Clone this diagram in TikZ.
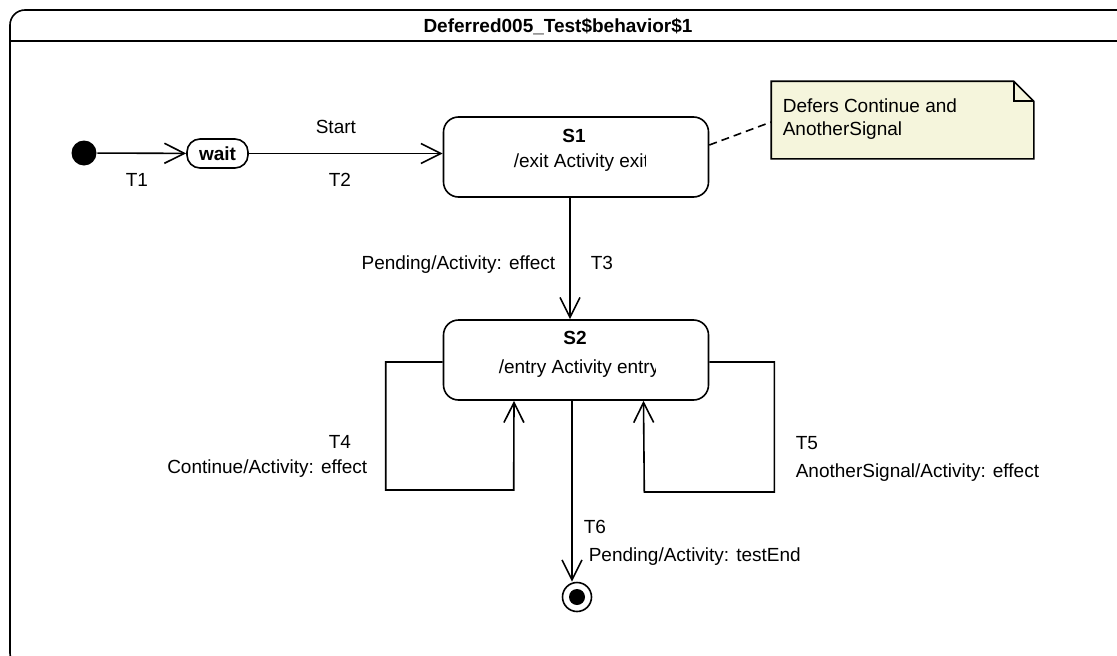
\documentclass[tikz,border=0pt]{standalone}
\usepackage{fontspec}
\setmainfont{Liberation Sans}
\usepackage{xcolor}
\usetikzlibrary{arrows.meta,positioning}
\definecolor{notefill}{RGB}{245,245,220}

\begin{document}
\begin{tikzpicture}[
    x=1pt, y=-1pt,
    font=\fontsize{19}{23}\selectfont,
    line width=1.6pt,
    state/.style={rectangle, draw, rounded corners=15pt, minimum width=265pt, minimum height=80pt, inner sep=0pt},
    smallstate/.style={rectangle, draw, rounded corners=13pt, minimum width=61pt, minimum height=29pt, inner sep=0pt, font=\fontsize{19}{23}\selectfont\bfseries},
    notebox/.style={rectangle, minimum width=261pt, minimum height=76pt, inner sep=0pt},
    trans/.style={-{Straight Barb[length=20pt,width=20pt]}},
    lbl/.style={inner sep=0pt, anchor=base west},
    rlbl/.style={inner sep=0pt, anchor=base east},
    clbl/.style={inner sep=0pt, anchor=base}
]
    \useasboundingbox (0,0) rectangle (1117,656);
    \clip (0,0) rectangle (1117,656);

    % Frame
    \draw[rounded corners=15pt] (10,10) rectangle (1140,668);
    \draw (10,41) -- (1117,41);
    \node[clbl, font=\fontsize{19}{23}\selectfont\bfseries] (title) at (558,32) {Deferred005\_Test\$behavior\$1};

    % States
    \node[circle, fill, minimum size=25pt, inner sep=0pt] (init) at (84,153) {};
    \node[smallstate] (wait) at (217.5,153.5) {wait};
    \node[state] (S1) at (576,157) {};
    \node[clbl, font=\fontsize{19}{23}\selectfont\bfseries] (S1name) at (574,142) {S1};
    \begin{scope}
        \clip (500,140) rectangle (645,180);
        \node[lbl] (S1exit) at (513,167) {/exit Activity exit};
    \end{scope}

    \node[state] (S2) at (576,360) {};
    \node[clbl, font=\fontsize{19}{23}\selectfont\bfseries] (S2name) at (575,344) {S2};
    \begin{scope}
        \clip (490,345) rectangle (655,385);
        \node[lbl] (S2entry) at (498,373) {/entry Activity entry};
    \end{scope}

    \node[circle, draw, minimum size=29pt, inner sep=0pt] (final) at (577,597) {};
    \node[circle, fill, minimum size=16pt, inner sep=0pt] (finaldot) at (final) {};

    % Note
    \node[notebox] (note) at (902.5,120) {};
    \filldraw[fill=notefill] (note.north west) -- ([xshift=-20pt]note.north east) -- ([yshift=-20pt]note.north east) -- (note.south east) -- (note.south west) -- cycle;
    \draw ([xshift=-20pt]note.north east) -- ++(0,20) -- ++(20,0);
    \node[lbl] (notetext1) at (782,112) {Defers Continue and};
    \node[lbl] (notetext2) at (782,135) {AnotherSignal};

    % Transitions
    \draw[trans] (init) -- (wait);
    \draw[trans] (wait) -- (wait -| S1.west);
    \draw[dash pattern=on 8pt off 5pt] ([yshift=12pt]S1.east) -- ([yshift=-2pt]note.west);
    \draw[trans] ([xshift=-6pt]S1.south) -- ([xshift=-6pt]S2.north);
    \draw[trans] ([yshift=-2pt]S2.west) -- ++(-57,0) -- ++(0,128) -- ++(128,0) -- ([xshift=-62pt]S2.south);
    \draw[trans] ([yshift=-2pt]S2.east) -- ++(65,0) -- ++(0,130) -- ++(-130,0) -- ([xshift=67.5pt]S2.south);
    \draw[trans] ([xshift=-4pt]S2.south) -- ([xshift=-4pt]S2.south |- final.north);

    % Labels
    \node[lbl] (t1) at (125,186) {T1};
    \node[lbl] (start) at (315,133) {Start};
    \node[lbl] (t2) at (328,186) {T2};
    \node[rlbl] (guard3) at (556,269) {Pending/Activity: effect};
    \node[lbl] (t3) at (590,269) {T3};
    \node[lbl] (t4) at (328,448) {T4};
    \node[rlbl] (guard4) at (368,473) {Continue/Activity: effect};
    \node[lbl] (t5) at (795,449) {T5};
    \node[lbl] (guard5) at (795,477) {AnotherSignal/Activity: effect};
    \node[lbl] (t6) at (583,533) {T6};
    \node[lbl] (guard6) at (588,561) {Pending/Activity: testEnd};
\end{tikzpicture}
\end{document}
